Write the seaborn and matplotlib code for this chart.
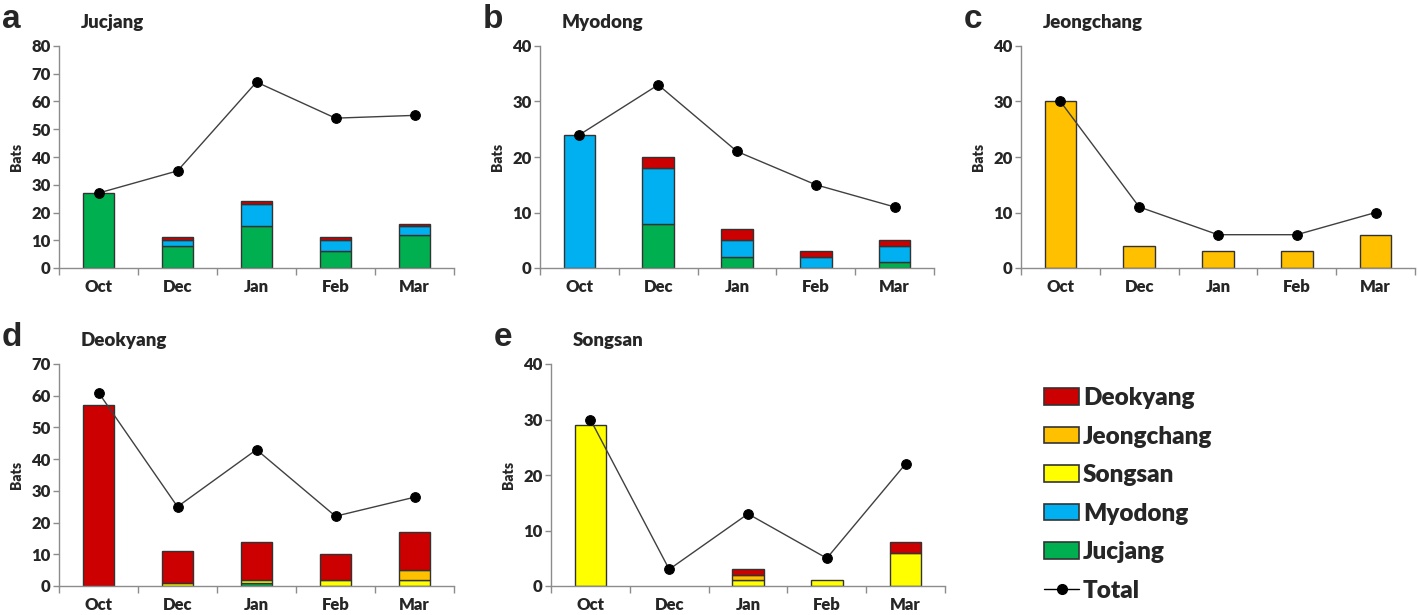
import matplotlib
matplotlib.use("Agg")
import matplotlib.pyplot as plt
import numpy as np
import seaborn as sns
from matplotlib.lines import Line2D
from matplotlib.patches import Patch
from matplotlib.ticker import FixedLocator, NullFormatter, MultipleLocator

sns.set_theme(style="white")
plt.rcParams['font.family'] = ['Lato', 'DejaVu Sans']

months = ['Oct', 'Dec', 'Jan', 'Feb', 'Mar']
sources = ['Jucjang', 'Myodong', 'Songsan', 'Jeongchang', 'Deokyang']  # stack order, bottom -> top
colors = {'Jucjang': '#00B050', 'Myodong': '#00B0F0', 'Songsan': '#FFFF00',
          'Jeongchang': '#FFC000', 'Deokyang': '#CC0000'}

# bats per roost, split by where they were originally marked
jucjang_bats = {'Jucjang': [27, 8, 15, 6, 12], 'Myodong': [0, 2, 8, 4, 3],
                'Songsan': [0, 0, 0, 0, 0], 'Jeongchang': [0, 0, 0, 0, 0],
                'Deokyang': [0, 1, 1, 1, 1]}
jucjang_total = [27, 35, 67, 54, 55]

myodong_bats = {'Jucjang': [0, 8, 2, 0, 1], 'Myodong': [24, 10, 3, 2, 3],
                'Songsan': [0, 0, 0, 0, 0], 'Jeongchang': [0, 0, 0, 0, 0],
                'Deokyang': [0, 2, 2, 1, 1]}
myodong_total = [24, 33, 21, 15, 11]

jeongchang_bats = {'Jucjang': [0, 0, 0, 0, 0], 'Myodong': [0, 0, 0, 0, 0],
                   'Songsan': [0, 0, 0, 0, 0], 'Jeongchang': [30, 4, 3, 3, 6],
                   'Deokyang': [0, 0, 0, 0, 0]}
jeongchang_total = [30, 11, 6, 6, 10]

deokyang_bats = {'Jucjang': [0, 0, 1, 0, 0], 'Myodong': [0, 0, 0, 0, 0],
                 'Songsan': [0, 1, 1, 2, 2], 'Jeongchang': [0, 0, 0, 0, 3],
                 'Deokyang': [57, 10, 12, 8, 12]}
deokyang_total = [61, 25, 43, 22, 28]

songsan_bats = {'Jucjang': [0, 0, 0, 0, 0], 'Myodong': [0, 0, 0, 0, 0],
                'Songsan': [29, 0, 1, 1, 6], 'Jeongchang': [0, 0, 1, 0, 0],
                'Deokyang': [0, 0, 1, 0, 2]}
songsan_total = [30, 3, 13, 5, 22]

W, H = 1418, 615
fig = plt.figure(figsize=(W / 100, H / 100), dpi=100)

panels = [
    # letter, title, data, total, ymax, axes box (px: left, top, right, bottom)
    ('a', 'Jucjang', jucjang_bats, jucjang_total, 80, (59, 46, 454, 268)),
    ('b', 'Myodong', myodong_bats, myodong_total, 40, (540, 46, 934, 268)),
    ('c', 'Jeongchang', jeongchang_bats, jeongchang_total, 40, (1021, 46, 1415, 268)),
    ('d', 'Deokyang', deokyang_bats, deokyang_total, 70, (59, 364, 454, 586)),
    ('e', 'Songsan', songsan_bats, songsan_total, 40, (551, 364, 945, 586)),
]

spine_col = '#8c8c8c'
heavy = 'heavy'
x = np.arange(len(months))

for letter, title, data, total, ymax, (l, t, r, b) in panels:
    ax = fig.add_axes([l / W, 1 - b / H, (r - l) / W, (b - t) / H])
    bottom = np.zeros(len(months))
    for src in sources:
        vals = np.array(data[src], dtype=float)
        mask = vals > 0
        ax.bar(x[mask], vals[mask], bottom=bottom[mask], width=0.4,
               color=colors[src], edgecolor='#333333', linewidth=1.0, zorder=2)
        bottom += vals
    sns.lineplot(x=x, y=total, ax=ax, color='#404040', linewidth=1.0,
                 marker='o', markersize=7, markerfacecolor='black',
                 markeredgecolor='black', zorder=3)

    ax.set_xlim(-0.5, len(months) - 0.5)
    ax.set_ylim(0, ymax)
    ax.yaxis.set_major_locator(MultipleLocator(10))
    ax.set_xticks(x)
    ax.set_xticklabels(months, fontweight=heavy, fontsize=12)
    ax.xaxis.set_minor_locator(FixedLocator(np.arange(-0.5, len(months), 1.0)))
    ax.xaxis.set_minor_formatter(NullFormatter())
    ax.tick_params(axis='x', which='major', length=0, pad=8)
    ax.tick_params(axis='x', which='minor', length=5, width=1, color=spine_col,
                   direction='out', bottom=True)
    ax.tick_params(axis='y', length=4, width=1, color=spine_col, direction='out',
                   left=True, labelsize=12, pad=2)
    for lab in ax.get_yticklabels():
        lab.set_fontweight(heavy)
    for side in ['top', 'right']:
        ax.spines[side].set_visible(False)
    for side in ['left', 'bottom']:
        ax.spines[side].set_color(spine_col)
        ax.spines[side].set_linewidth(1.0)
    ax.set_ylabel('Bats', fontsize=10, fontweight=heavy, labelpad=6)
    ax.set_xlabel('')

    fig.text((l - 57) / W, 1 - (t - 18) / H, letter, fontsize=24, fontweight='bold',
             family=['Liberation Sans', 'DejaVu Sans'], va='baseline', ha='left')
    fig.text((l + 22) / W, 1 - (t - 18) / H, title, fontsize=13.5, fontweight=heavy,
             va='baseline', ha='left')

handles = [Patch(facecolor=colors[s], edgecolor='#333333', linewidth=1.2, label=s)
           for s in reversed(sources)]
handles.append(Line2D([0], [0], color='black', linewidth=1.0, marker='o',
                      markersize=7, label='Total'))
fig.legend(handles=handles, loc='upper left', bbox_to_anchor=(1044 / W, 1 - 387 / H),
           frameon=False, borderpad=0, borderaxespad=0, handlelength=1.45,
           handleheight=0.65, handletextpad=0.15, labelspacing=0.68,
           prop={'size': 17.5, 'weight': heavy})

fig.savefig('out.png', dpi=100)
